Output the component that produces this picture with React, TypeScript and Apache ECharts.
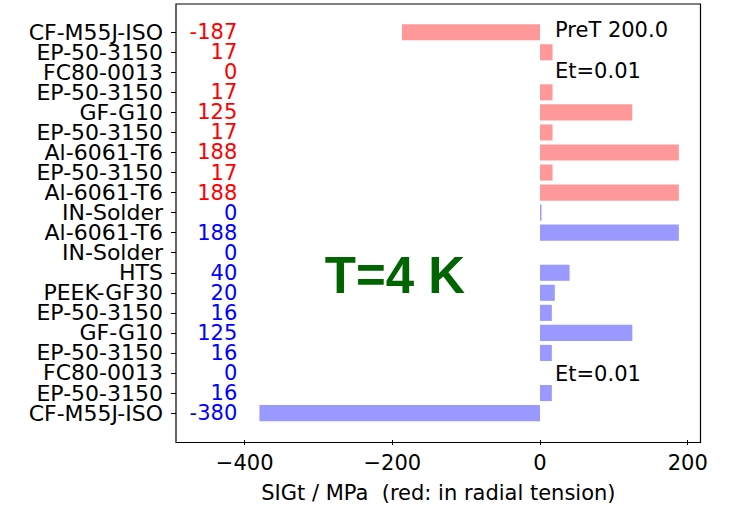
import React, { useEffect, useRef } from "react";
import * as echarts from "echarts";

const categories = [
  "CF-M55J-ISO", "EP-50-3150", "FC80-0013", "EP-50-3150", "GF-G10",
  "EP-50-3150", "Al-6061-T6", "EP-50-3150", "Al-6061-T6", "IN-Solder",
  "Al-6061-T6", "IN-Solder", "HTS", "PEEK-GF30", "EP-50-3150",
  "GF-G10", "EP-50-3150", "FC80-0013", "EP-50-3150", "CF-M55J-ISO",
];
const sigtValues = [
  -187, 17, 0, 17, 125, 17, 188, 17, 188, 2,
  188, 0, 40, 20, 16, 125, 16, 0, 16, -380,
];
const valueLabels = [
  "-187", "17", "0", "17", "125", "17", "188", "17", "188", "0",
  "188", "0", "40", "20", "16", "125", "16", "0", "16", "-380",
];
const inTension = [
  true, true, true, true, true, true, true, true, true, false,
  false, false, false, false, false, false, false, false, false, false,
];
const xTicks = [-400, -200, 0, 200];
const labelX = -410;

const FONT = "DejaVu Sans";

export default function App() {
  const ref = useRef<HTMLDivElement>(null);
  useEffect(() => {
    if (!ref.current) return;
    const chart = echarts.init(ref.current, null, { renderer: "svg" });
    chart.setOption({
      animation: false,
      backgroundColor: "#ffffff",
      grid: { left: 176, right: 30.3, top: 22.2, bottom: 82.2, containLabel: false },
      xAxis: {
        type: "value",
        min: -493,
        max: 217.6,
        offset: 16.9,
        axisLine: { show: false, onZero: false },
        splitLine: { show: false },
        axisTick: { show: true, length: 5, lineStyle: { color: "#000", width: 1 }, customValues: xTicks },
        axisLabel: {
          customValues: xTicks,
          fontFamily: FONT,
          fontSize: 21,
          color: "#000",
          margin: 12,
          formatter: (v: number) => String(v).replace("-", "\u2212"),
        },
        name: "SIGt / MPa  (red: in radial tension)",
        nameLocation: "middle",
        nameGap: 42,
        nameTextStyle: { fontFamily: FONT, fontSize: 21, color: "#000" },
      },
      yAxis: {
        type: "category",
        inverse: true,
        data: categories,
        axisLine: { show: false, onZero: false },
        axisTick: { show: true, alignWithLabel: true, interval: 0, length: 5, lineStyle: { color: "#000", width: 1 } },
        axisLabel: {
          fontFamily: FONT,
          fontSize: 22,
          color: "#000",
          margin: 13,
          interval: 0,
          hideOverlap: false,
        },
        splitLine: { show: false },
      },
      series: [
        {
          type: "bar",
          barWidth: 16.1,
          data: sigtValues.map((v, i) => ({
            value: v,
            itemStyle: { color: inTension[i] ? "#ff9999" : "#9999ff" },
          })),
        },
        {
          type: "scatter",
          symbolSize: 0,
          itemStyle: { opacity: 1 },
          labelLayout: { hideOverlap: false },
          data: sigtValues.map((_, i) => ({
            value: [labelX, i],
            label: {
              show: true,
              position: "left",
              distance: 0,
              formatter: valueLabels[i],
              color: inTension[i] ? "#ff0000" : "#0000ff",
              fontFamily: FONT,
              fontSize: 21,
              opacity: 1,
            },
          })),
        },
      ],
      graphic: [
        {
          type: "rect",
          shape: { x: 176, y: 4, width: 524.5, height: 438.5 },
          style: { fill: "none", stroke: "#000", lineWidth: 1.2 },
          silent: true,
        },
        {
          type: "text",
          x: 555,
          y: 30,
          style: { text: "PreT 200.0", fontFamily: FONT, fontSize: 21, fill: "#000", verticalAlign: "middle", align: "left" },
        },
        {
          type: "text",
          x: 555,
          y: 71,
          style: { text: "Et=0.01", fontFamily: FONT, fontSize: 21, fill: "#000", verticalAlign: "middle", align: "left" },
        },
        {
          type: "text",
          x: 555,
          y: 374,
          style: { text: "Et=0.01", fontFamily: FONT, fontSize: 21, fill: "#000", verticalAlign: "middle", align: "left" },
        },
        {
          type: "text",
          x: 395,
          y: 275,
          style: {
            text: "T=4 K",
            fontFamily: "Liberation Sans",
            fontWeight: "bold",
            fontSize: 51,
            fill: "#006400",
            verticalAlign: "middle",
            align: "center",
          },
        },
      ],
    });
    return () => chart.dispose();
  }, []);
  return (
    <div
      ref={ref}
      style={{ position: "absolute", left: 0, top: 0, width: 731, height: 508, background: "#fff" }}
    />
  );
}
